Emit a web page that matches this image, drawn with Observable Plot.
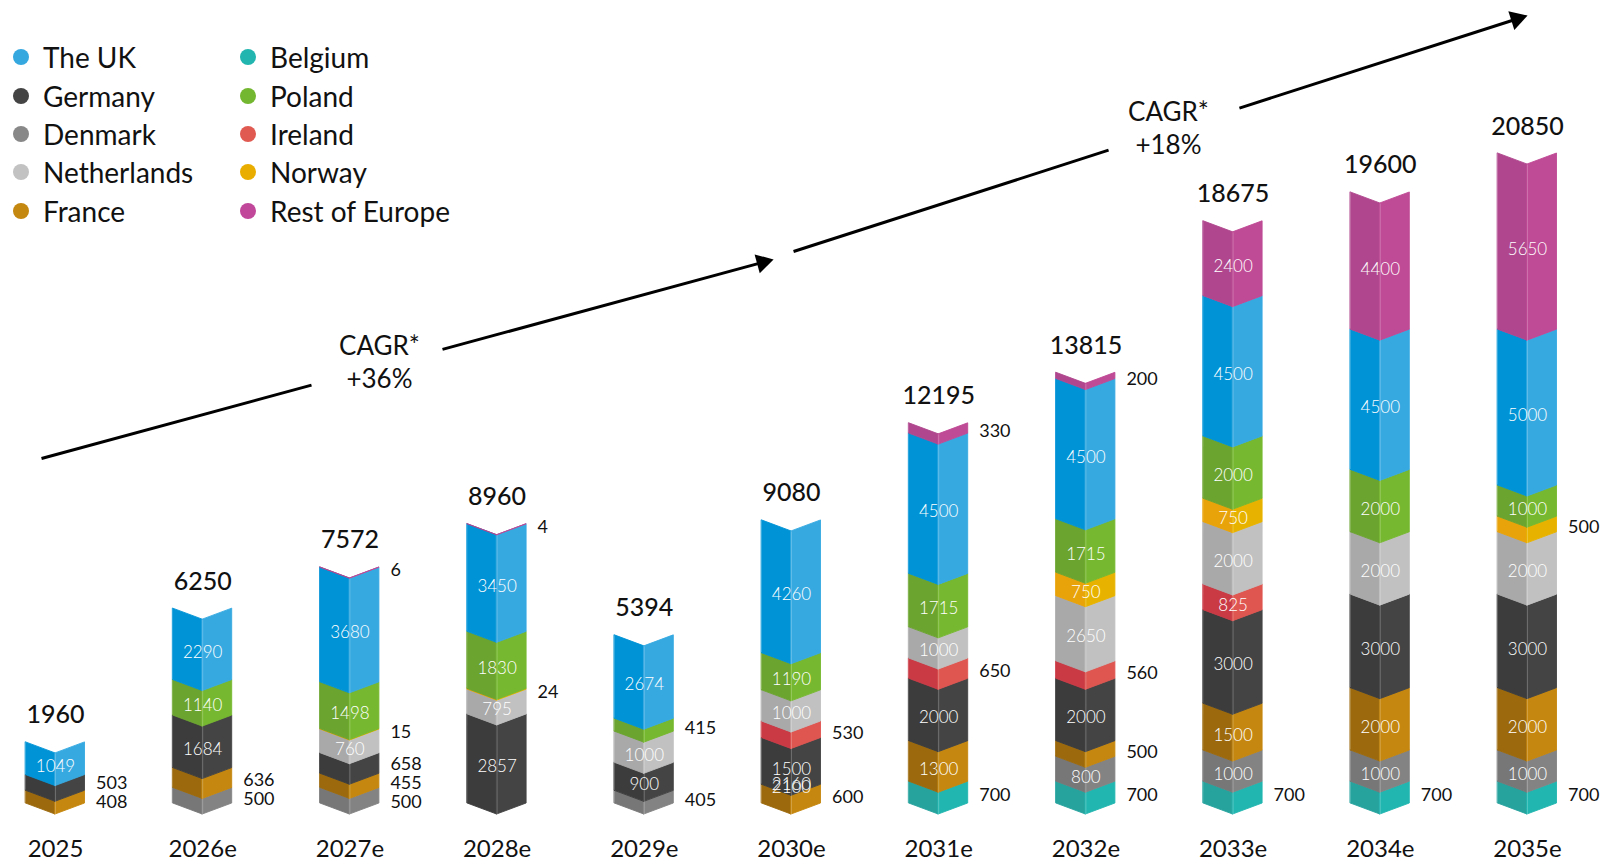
<!DOCTYPE html>
<html><head><meta charset="utf-8">
<script src="https://cdn.jsdelivr.net/npm/d3@7"></script>
<script src="https://cdn.jsdelivr.net/npm/@observablehq/plot@0.6"></script>
<style>
body{margin:0;background:#fff;font-family:Lato,"Open Sans",sans-serif;}
#wrap{position:relative;width:1602px;height:864px;overflow:hidden;}
.item{position:absolute;display:flex;align-items:center;height:34px;font-size:28px;color:#111;white-space:nowrap;font-family:Lato,sans-serif;}
.dot{width:16px;height:16px;border-radius:50%;margin-right:14px;flex:none;}
</style></head>
<body><div id="wrap"><div id="chart"></div><div id="legend"></div></div>
<script>
// ---- data ----
const years = ["2025","2026e","2027e","2028e","2029e","2030e","2031e","2032e","2033e","2034e","2035e"];
const totals = [1960,6250,7572,8960,5394,9080,12195,13815,18675,19600,20850];
// stack order, bottom to top
const belgium      = [0,0,0,0,0,0,700,700,700,700,700];
const denmark      = [0,500,500,0,405,0,0,800,1000,1000,1000];
const france       = [408,636,455,0,0,600,1300,500,1500,2000,2000];
const germany      = [503,1684,658,2857,900,1500,2000,2000,3000,3000,3000];
const ireland      = [0,0,0,0,0,530,650,560,825,0,0];
const netherlands  = [0,0,760,795,1000,1000,1000,2090,2000,2000,2000];
const norway       = [0,0,15,24,0,0,0,750,750,0,500];
const poland       = [0,1140,1498,1830,415,1190,1715,1715,2000,2000,1000];
const uk           = [1049,2290,3680,3450,2674,4260,4500,4500,4500,4500,5000];
const restOfEurope = [0,0,6,4,0,0,330,200,2400,4400,5650];
// label printed in the source differs from the drawn height here
const labelOverrides = [{year:"2032e", country:"Netherlands", text:"2650"}];
// overlapping stray labels printed in the 2030e bar
const strayLabels = [{year:"2030e", y:870, text:"2160"}, {year:"2030e", y:760, text:"2100"}];
const cagrLabels = [{x:2.201, y:14210, text:"CAGR*\n+36%"}, {x:7.561, y:21716, text:"CAGR*\n+18%"}];
const cagrSegments = [
  {x1:-0.095, y1:11067, x2:1.739, y2:13421},
  {x1:2.629, y1:14566, x2:4.804, y2:17357},
  {x1:5.014, y1:17706, x2:7.154, y2:20956},
  {x1:8.043, y1:22306, x2:9.927, y2:25165}
];
const cagrHeads = [{x:4.804, y:17357, angle:74.8}, {x:9.927, y:25165, angle:72.2}];

const series = [
  {name:"Belgium",        values:belgium,      left:"#27a39e", right:"#22b6b0", dot:"#22b5b0"},
  {name:"Denmark",        values:denmark,      left:"#777777", right:"#838383", dot:"#888888"},
  {name:"France",         values:france,       left:"#9c6a0d", right:"#c5870f", dot:"#c4870f"},
  {name:"Germany",        values:germany,      left:"#3c3c3c", right:"#444444", dot:"#444444"},
  {name:"Ireland",        values:ireland,      left:"#c93a45", right:"#df5550", dot:"#e05a51"},
  {name:"Netherlands",    values:netherlands,  left:"#a9a9a9", right:"#c1c1c1", dot:"#c2c2c2"},
  {name:"Norway",         values:norway,       left:"#e9a30a", right:"#e8b300", dot:"#e9ad00"},
  {name:"Poland",         values:poland,       left:"#6ba42f", right:"#76b82f", dot:"#73b62f"},
  {name:"The UK",         values:uk,           left:"#0093d6", right:"#36a9e1", dot:"#35a8e0"},
  {name:"Rest of Europe", values:restOfEurope, left:"#b0478e", right:"#bf4a95", dot:"#c0479a"}
];
const legendCol1 = ["The UK","Germany","Denmark","Netherlands","France"];
const legendCol2 = ["Belgium","Poland","Ireland","Norway","Rest of Europe"];

// ---- geometry helpers ----
const yMax = 20850;
const pxPerUnit = 650 / yMax;
const D = 11 / pxPerUnit;        // V-notch depth in value units
const hw = 29.5 / 147.2;         // half bar width in x units
const minGap = 19 / pxPerUnit;   // min spacing between outside labels

const polys = [];
const labels = [];
const folds = [];
years.forEach((yr, i) => {
  let s = 0;
  const outside = [];
  series.forEach(c => {
    const v = c.values[i];
    if (!v) return;
    const s0 = s, s1 = s + v; s = s1;
    const id = yr + c.name;
    polys.push({id: id + "L", x: i - hw, y1: s0, y2: s1, color: c.left});
    polys.push({id: id + "L", x: i, y1: s0 - D, y2: s1 - D, color: c.left});
    polys.push({id: id + "R", x: i, y1: s0 - D, y2: s1 - D, color: c.right});
    polys.push({id: id + "R", x: i + hw, y1: s0, y2: s1, color: c.right});
    const ov = labelOverrides.find(o => o.year === yr && o.country === c.name);
    const lab = {i, y: (s0 + s1) / 2, text: ov ? ov.text : String(v), inside: v > 700};
    labels.push(lab);
    if (!lab.inside) outside.push(lab);
  });
  // spread colliding outside labels apart symmetrically
  for (let it = 0; it < 60; it++) {
    for (let j = 1; j < outside.length; j++) {
      const gap = outside[j].y - outside[j - 1].y;
      if (gap < minGap) {
        const d = (minGap - gap) / 2;
        outside[j].y += d; outside[j - 1].y -= d;
      }
    }
  }
  folds.push({i, top: s});
});
const strays = strayLabels.map(d => ({i: years.indexOf(d.year), y: d.y, text: d.text}));

const font = "Lato, 'Open Sans', sans-serif";
const chart = Plot.plot({
  width: 1602, height: 864,
  margin: 0,
  x: {domain: [0, 10], range: [55, 1527], axis: null},
  y: {domain: [0, yMax], range: [803, 153], axis: null},
  color: {type: "identity"},
  marks: [
    Plot.area(polys, {x1: "x", y1: "y1", y2: "y2", z: "id", fill: "color", stroke: "color", strokeWidth: 0.9, curve: "linear"}),
    Plot.link(folds, {x1: "i", x2: "i", y1: -D, y2: d => d.top - D, stroke: "white", strokeOpacity: 0.22, strokeWidth: 1}),
    Plot.text(labels.filter(d => d.inside), {x: "i", y: "y", text: "text", dy: 8, fill: "white", fontSize: 17, fontWeight: 300, fontFamily: font}),
    Plot.text(strays, {x: "i", y: "y", text: "text", dy: 8, fill: "white", fontSize: 17, fontWeight: 300, fontFamily: font}),
    Plot.text(labels.filter(d => !d.inside), {x: d => d.i + hw, y: "y", text: "text", dx: 11, dy: 3, textAnchor: "start", fill: "#111", fontSize: 18, fontFamily: font}),
    Plot.text(years, {x: (d, i) => i, y: (d, i) => totals[i], text: (d, i) => String(totals[i]), dy: -27, fill: "#111", fontSize: 25, fontWeight: 500, fontFamily: font}),
    Plot.text(years, {x: (d, i) => i, frameAnchor: "bottom", lineAnchor: "middle", dy: -15, text: d => d, fill: "#111", fontSize: 24, fontFamily: font}),
    Plot.link(cagrSegments, {x1: "x1", y1: "y1", x2: "x2", y2: "y2", stroke: "#000", strokeWidth: 3}),
    Plot.dot(cagrHeads, {x: "x", y: "y", symbol: "triangle", r: 7.3, fill: "#000", rotate: "angle"}),
    Plot.text(cagrLabels, {x: "x", y: "y", text: "text", fill: "#111", fontSize: 26, lineHeight: 1.27, fontFamily: font})
  ]
});
document.getElementById("chart").appendChild(chart);

// ---- legend ----
const lookup = Object.fromEntries(series.map(s => [s.name, s.dot]));
const legend = document.getElementById("legend");
const rowsY = [57, 95.5, 134, 172, 210.5];
[[legendCol1, 13], [legendCol2, 240]].forEach(([names, left]) => {
  names.forEach((n, r) => {
    const el = document.createElement("div");
    el.className = "item";
    el.style.left = left + "px";
    el.style.top = (rowsY[r] - 17) + "px";
    el.innerHTML = `<span class="dot" style="background:${lookup[n]}"></span><span>${n}</span>`;
    legend.appendChild(el);
  });
});
</script>
</body></html>
